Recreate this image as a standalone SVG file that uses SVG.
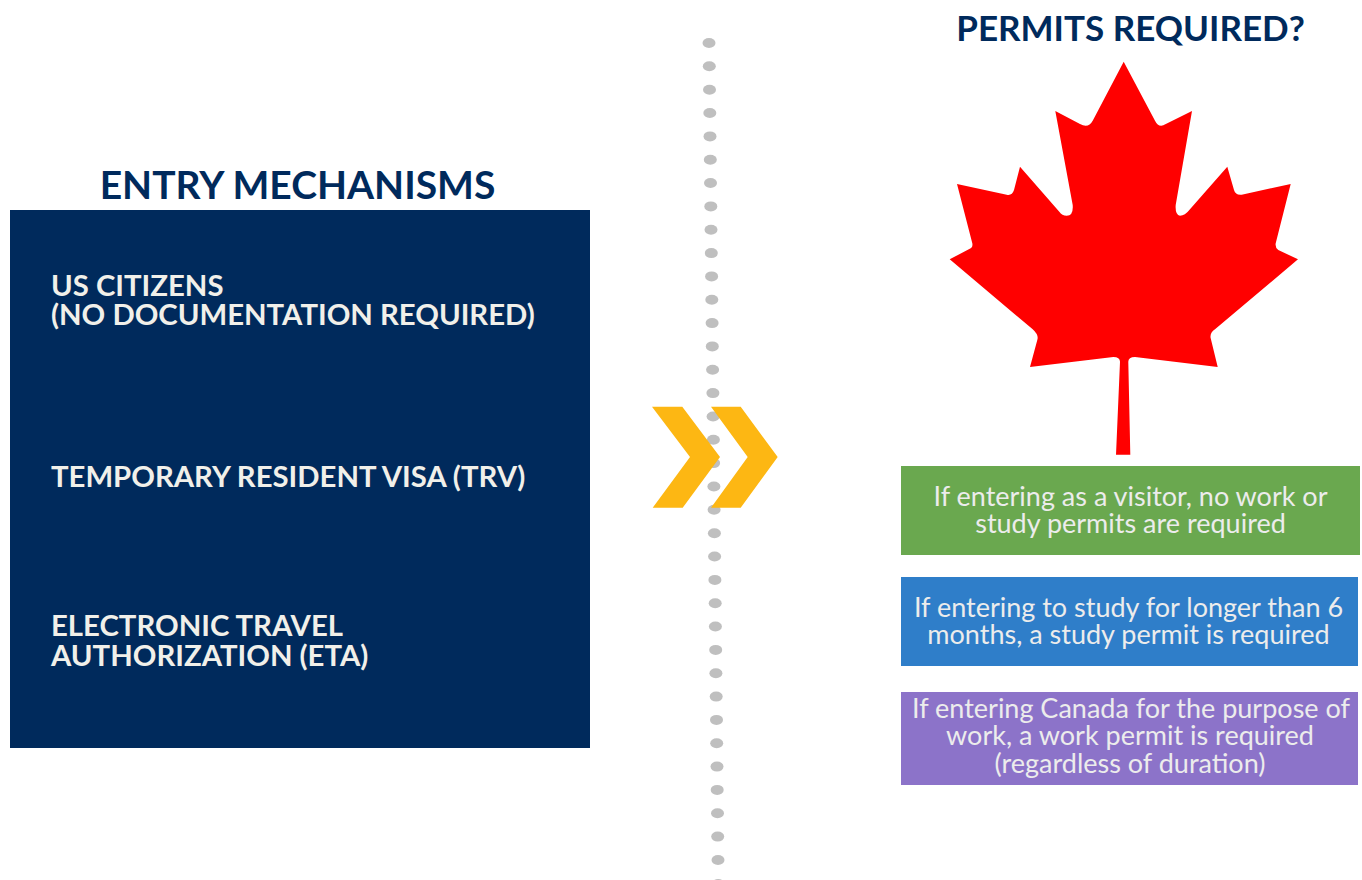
<svg xmlns="http://www.w3.org/2000/svg" width="1362" height="880" viewBox="0 0 1362 880">
<style>
.h{font-family:Lato,"Liberation Sans",sans-serif;font-weight:700;font-size:39px;fill:#002a5c;text-anchor:middle}
.e{font-family:Lato,"Liberation Sans",sans-serif;font-weight:700;font-size:29.3px;fill:#f1f0ea}
.p{font-family:Lato,"Liberation Sans",sans-serif;font-size:27px;fill:#ececec;text-anchor:middle}
.d{fill:#bfbfbf}
.c{fill:#fdb713}
</style>
<rect width="1362" height="880" fill="#fff"/>
<g id="divider">
<ellipse class="d" cx="709" cy="43" rx="6.5" ry="5"/><ellipse class="d" cx="709.3" cy="66.3" rx="6.5" ry="5"/><ellipse class="d" cx="709.5" cy="89.7" rx="6.5" ry="5"/><ellipse class="d" cx="709.8" cy="113" rx="6.5" ry="5"/><ellipse class="d" cx="710" cy="136.4" rx="6.5" ry="5"/><ellipse class="d" cx="710.3" cy="159.7" rx="6.5" ry="5"/><ellipse class="d" cx="710.5" cy="183" rx="6.5" ry="5"/><ellipse class="d" cx="710.8" cy="206.4" rx="6.5" ry="5"/><ellipse class="d" cx="711" cy="229.7" rx="6.5" ry="5"/><ellipse class="d" cx="711.3" cy="253.1" rx="6.5" ry="5"/><ellipse class="d" cx="711.6" cy="276.4" rx="6.5" ry="5"/><ellipse class="d" cx="711.8" cy="299.8" rx="6.5" ry="5"/><ellipse class="d" cx="712.1" cy="323.1" rx="6.5" ry="5"/><ellipse class="d" cx="712.3" cy="346.4" rx="6.5" ry="5"/><ellipse class="d" cx="712.6" cy="369.8" rx="6.5" ry="5"/><ellipse class="d" cx="712.9" cy="393.1" rx="6.5" ry="5"/><ellipse class="d" cx="713.1" cy="416.5" rx="6.5" ry="5"/><ellipse class="d" cx="713.4" cy="439.8" rx="6.5" ry="5"/><ellipse class="d" cx="713.6" cy="463.1" rx="6.5" ry="5"/><ellipse class="d" cx="713.9" cy="486.5" rx="6.5" ry="5"/><ellipse class="d" cx="714.1" cy="509.8" rx="6.5" ry="5"/><ellipse class="d" cx="714.4" cy="533.2" rx="6.5" ry="5"/><ellipse class="d" cx="714.6" cy="556.5" rx="6.5" ry="5"/><ellipse class="d" cx="714.9" cy="579.9" rx="6.5" ry="5"/><ellipse class="d" cx="715.2" cy="603.2" rx="6.5" ry="5"/><ellipse class="d" cx="715.4" cy="626.5" rx="6.5" ry="5"/><ellipse class="d" cx="715.7" cy="649.9" rx="6.5" ry="5"/><ellipse class="d" cx="715.9" cy="673.2" rx="6.5" ry="5"/><ellipse class="d" cx="716.2" cy="696.6" rx="6.5" ry="5"/><ellipse class="d" cx="716.5" cy="719.9" rx="6.5" ry="5"/><ellipse class="d" cx="716.7" cy="743.2" rx="6.5" ry="5"/><ellipse class="d" cx="717" cy="766.6" rx="6.5" ry="5"/><ellipse class="d" cx="717.2" cy="789.9" rx="6.5" ry="5"/><ellipse class="d" cx="717.5" cy="813.3" rx="6.5" ry="5"/><ellipse class="d" cx="717.7" cy="836.6" rx="6.5" ry="5"/><ellipse class="d" cx="718" cy="860" rx="6.5" ry="5"/><ellipse class="d" cx="718.2" cy="884" rx="6.5" ry="5"/>
</g>
<g id="chevrons">
<polygon class="c" points="652,406.7 682.3,406.7 720,457 682.7,507.7 652.7,507.7 690,457"/>
<polygon class="c" points="711,406.7 740.7,406.7 777.7,457 740.7,507.7 711,507.7 747.7,457"/>
</g>
<g id="entry-mechanisms">
<text class="h" x="297.5" y="199">ENTRY MECHANISMS</text>
<rect x="10" y="210" width="580" height="538" fill="#002a5c"/>
<text class="e" x="51" y="295.500">US CITIZENS</text>
<text class="e" x="51" y="324.500">(NO DOCUMENTATION REQUIRED)</text>
<text class="e" x="51" y="486.500">TEMPORARY RESIDENT VISA (TRV)</text>
<text class="e" x="51" y="635.500">ELECTRONIC TRAVEL</text>
<text class="e" x="51" y="665.500">AUTHORIZATION (ETA)</text>
</g>
<g id="permits-title"><text class="h" x="1130.500" y="41" style="font-size:35px">PERMITS REQUIRED?</text></g>
<g id="maple-leaf">
<path fill="#f00" d="M1123.7 61.7L1092.7 120.7Q1088.5 128.5 1080 124L1055.3 111L1072.7 205Q1073.5 215.7 1066.7 215.7Q1062 215.7 1059.3 211.7L1020 166.7L1014 190Q1012 196 1006.7 194.7L957 184L972.3 243.3Q973 247 970.7 248.3L949.7 259.3L1032.7 329.3Q1039 335 1037.3 340L1030 367L1113.3 357Q1120 357 1120 361.7L1116 454.7H1130.3L1128.3 361.7Q1128.3 357 1135 357L1217.7 367L1210.7 338.3Q1209.5 333 1215 329.3L1298 259.3L1278.3 250Q1275 248 1275.7 243.3L1290.7 184L1241.7 194.7Q1235.5 195.5 1234 190L1227.3 166.7L1189.3 210Q1185 215.7 1180 215.7Q1175 215 1175.7 205L1192 111L1163.3 125.3Q1158 127 1155 120.7Z"/>
</g>
<g id="permit-visitor">
<rect x="901" y="466" width="459" height="89" fill="#6aa84f"/>
<text class="p" x="1130.5" y="506">If entering as a visitor, no work or</text>
<text class="p" x="1130.5" y="533">study permits are required</text>
</g>
<g id="permit-study">
<rect x="901" y="577" width="457" height="89" fill="#2f7ec9"/>
<text class="p" x="1128.500" y="617">If entering to study for longer than 6</text>
<text class="p" x="1128.500" y="644">months, a study permit is required</text>
</g>
<g id="permit-work">
<rect x="901" y="692" width="457" height="93" fill="#8c73c9"/>
<text class="p" x="1131" y="717.500">If entering Canada for the purpose of</text>
<text class="p" x="1130" y="745">work, a work permit is required</text>
<text class="p" x="1130" y="772.500">(regardless of duration)</text>
</g>
</svg>
